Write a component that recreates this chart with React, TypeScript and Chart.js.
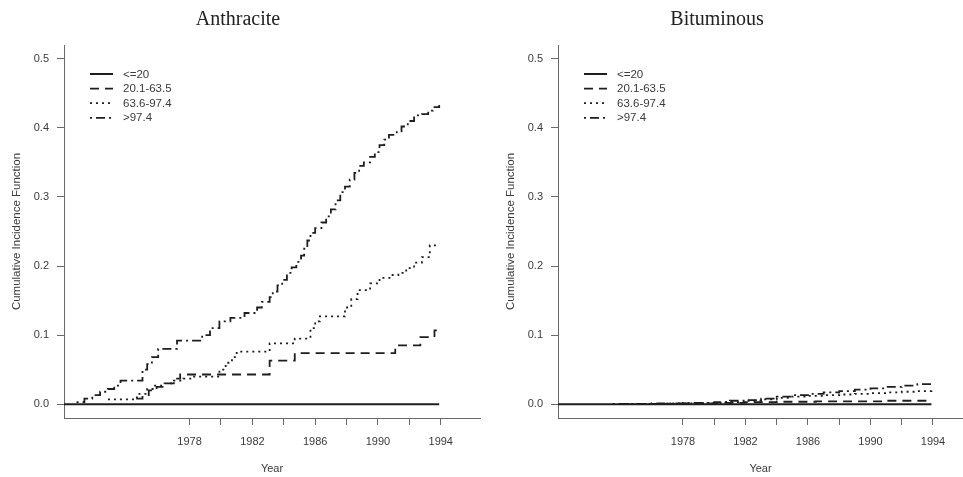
import React, { useEffect, useRef } from 'react';
import { Chart, registerables } from 'chart.js';

Chart.register(...registerables);

// ---------- data ----------
const panelTitles = ['Anthracite', 'Bituminous'];
const seriesLabels = ['<=20', '20.1-63.5', '63.6-97.4', '>97.4'];
const yTickValues = [0, 0.1, 0.2, 0.3, 0.4, 0.5];
const xTickValues = [1978, 1980, 1982, 1984, 1986, 1988, 1990, 1992, 1994];
const xTickLabels = ['1978', '', '1982', '', '1986', '', '1990', '', '1994'];

// Anthracite
const anthLe20Years = [1970, 1993.9];
const anthLe20Values = [0, 0];
const anth20to63Years = [1974.6, 1975.0, 1975.4, 1975.9, 1976.4, 1977.0, 1977.4, 1983.1, 1984.7, 1991.1, 1992.7, 1993.6, 1993.9];
const anth20to63Values = [0.008, 0.013, 0.02, 0.025, 0.03, 0.037, 0.043, 0.063, 0.074, 0.085, 0.097, 0.107, 0.107];
const anth63to97Years = [1972.8, 1974.4, 1974.8, 1975.3, 1975.8, 1976.4, 1977.0, 1977.6, 1978.2, 1979.9, 1980.3, 1980.7, 1981.0, 1983.1, 1984.7, 1985.7, 1986.0, 1986.3, 1987.9, 1988.3, 1988.7, 1989.5, 1990.1, 1990.8, 1991.3, 1991.8, 1992.3, 1992.8, 1993.3, 1993.9];
const anth63to97Values = [0.007, 0.01, 0.015, 0.022, 0.027, 0.03, 0.034, 0.037, 0.04, 0.05, 0.06, 0.068, 0.076, 0.088, 0.095, 0.11, 0.12, 0.127, 0.14, 0.152, 0.165, 0.175, 0.183, 0.187, 0.19, 0.197, 0.205, 0.213, 0.23, 0.23];
const anthGt97Years = [1970.8, 1971.3, 1971.8, 1972.3, 1972.8, 1973.2, 1973.6, 1975.0, 1975.3, 1975.6, 1976.0, 1977.2, 1978.8, 1979.3, 1979.9, 1980.6, 1981.5, 1982.3, 1982.6, 1983.1, 1983.3, 1983.6, 1983.9, 1984.2, 1984.5, 1984.8, 1985.1, 1985.3, 1985.5, 1985.7, 1986.0, 1986.4, 1986.7, 1987.0, 1987.3, 1987.6, 1987.9, 1988.2, 1988.5, 1988.8, 1989.1, 1989.5, 1989.8, 1990.1, 1990.4, 1990.7, 1991.2, 1991.5, 1991.9, 1992.3, 1992.8, 1993.2, 1993.5, 1993.9];
const anthGt97Values = [0.003, 0.008, 0.013, 0.018, 0.022, 0.027, 0.034, 0.05, 0.058, 0.068, 0.08, 0.092, 0.1, 0.11, 0.12, 0.125, 0.132, 0.14, 0.148, 0.155, 0.163, 0.172, 0.18, 0.19, 0.198, 0.206, 0.215, 0.225, 0.237, 0.248, 0.255, 0.263, 0.272, 0.282, 0.295, 0.307, 0.315, 0.325, 0.335, 0.345, 0.35, 0.358, 0.365, 0.375, 0.383, 0.39, 0.395, 0.402, 0.41, 0.418, 0.42, 0.425, 0.43, 0.433];

// Bituminous
const bitLe20Years = [1970, 1993.9];
const bitLe20Values = [0, 0];
const bit20to63Years = [1974.0, 1978.0, 1980.0, 1982.0, 1984.0, 1986.5, 1991.0, 1993.9];
const bit20to63Values = [0.0005, 0.001, 0.002, 0.003, 0.0035, 0.004, 0.005, 0.005];
const bit63to97Years = [1973.5, 1977.0, 1979.0, 1980.5, 1982.0, 1983.0, 1984.0, 1985.0, 1986.0, 1987.0, 1988.0, 1989.0, 1990.0, 1991.0, 1992.0, 1993.0, 1993.9];
const bit63to97Values = [0.0005, 0.001, 0.002, 0.003, 0.005, 0.007, 0.009, 0.011, 0.012, 0.013, 0.014, 0.015, 0.016, 0.017, 0.018, 0.019, 0.021];
const bitGt97Years = [1973.5, 1976.0, 1978.0, 1980.0, 1981.0, 1982.0, 1983.0, 1984.0, 1985.0, 1986.0, 1987.0, 1988.0, 1989.0, 1990.0, 1991.0, 1992.0, 1993.0, 1993.9];
const bitGt97Values = [0.0005, 0.001, 0.002, 0.003, 0.005, 0.006, 0.008, 0.011, 0.013, 0.015, 0.017, 0.019, 0.021, 0.023, 0.025, 0.027, 0.029, 0.031];

// ---------- styles ----------
const LINE_COLOR = '#1e1e1e';
const AXIS_COLOR = '#6a6a6a';
const TEXT_COLOR = '#3a3a3a';
const DASHES: number[][] = [[], [9, 6], [2, 4], [2, 4, 9, 4]];
const WIDTHS = [2, 1.8, 1.8, 1.8];
const SANS = '"Liberation Sans", Arial, Helvetica, sans-serif';
const SERIF = '"Liberation Serif", "Times New Roman", serif';

type PanelOpts = {
  title: string;
  years: number[][];
  values: number[][];
  yAxisWidth: number;
  yTitlePad: number;
  xMax: number;
  padRight: number;
  titleX: number;
};

const overlayPlugin = {
  id: 'overlay',
  afterDraw(chart: any, _args: any, opts: any) {
    const ctx = chart.ctx;
    const { left, top } = chart.chartArea;
    ctx.save();
    // title
    ctx.fillStyle = '#222';
    ctx.font = `20px ${SERIF}`;
    ctx.textAlign = 'center';
    ctx.textBaseline = 'middle';
    ctx.fillText(opts.title, opts.titleX, 20);
    // legend
    ctx.font = `11.5px ${SANS}`;
    ctx.textAlign = 'left';
    chart.data.datasets.forEach((ds: any, i: number) => {
      const y = top + 29 + i * 14.6;
      ctx.strokeStyle = LINE_COLOR;
      ctx.lineWidth = ds.borderWidth;
      ctx.setLineDash(ds.borderDash || []);
      ctx.beginPath();
      ctx.moveTo(left + 26, y);
      ctx.lineTo(left + 49, y);
      ctx.stroke();
      ctx.setLineDash([]);
      ctx.fillStyle = TEXT_COLOR;
      ctx.fillText(ds.label, left + 59, y + 0.5);
    });
    ctx.restore();
  },
};

function makeConfig(p: PanelOpts): any {
  const datasets = seriesLabels.map((label, i) => ({
    label,
    data: p.years[i].map((x, j) => ({ x, y: p.values[i][j] })),
    borderColor: LINE_COLOR,
    borderWidth: WIDTHS[i],
    borderDash: DASHES[i],
    pointRadius: 0,
    stepped: true,
    fill: false,
    tension: 0,
  }));
  return {
    type: 'line',
    data: { datasets },
    plugins: [overlayPlugin],
    options: {
      responsive: false,
      animation: false,
      devicePixelRatio: 1,
      layout: { padding: { top: 45, left: 0, right: p.padRight, bottom: 0 } },
      plugins: {
        legend: { display: false },
        title: { display: false },
        tooltip: { enabled: false },
        overlay: { title: p.title, titleX: p.titleX },
      },
      scales: {
        x: {
          type: 'linear',
          min: 1970,
          max: p.xMax,
          afterBuildTicks: (s: any) => {
            s.ticks = xTickValues.map((v) => ({ value: v }));
          },
          afterFit: (s: any) => {
            s.height = 59;
          },
          ticks: {
            autoSkip: false,
            maxRotation: 0,
            padding: 10,
            color: TEXT_COLOR,
            font: { family: SANS, size: 11 },
            callback: (v: number) => {
              const i = xTickValues.indexOf(v);
              return i >= 0 ? xTickLabels[i] : '';
            },
          },
          grid: {
            display: true,
            drawOnChartArea: false,
            drawTicks: true,
            tickLength: 7,
            color: AXIS_COLOR,
          },
          border: { display: true, color: AXIS_COLOR, width: 1 },
          title: {
            display: true,
            text: 'Year',
            color: TEXT_COLOR,
            font: { family: SANS, size: 11 },
            padding: { top: 0, bottom: 1 },
          },
        },
        y: {
          type: 'linear',
          min: -0.02,
          max: 0.52,
          afterBuildTicks: (s: any) => {
            s.ticks = yTickValues.map((v) => ({ value: v }));
          },
          afterFit: (s: any) => {
            s.width = p.yAxisWidth;
          },
          ticks: {
            padding: 8,
            color: TEXT_COLOR,
            font: { family: SANS, size: 11 },
            callback: (v: number) => v.toFixed(1),
          },
          grid: {
            display: true,
            drawOnChartArea: false,
            drawTicks: true,
            tickLength: 7,
            color: AXIS_COLOR,
          },
          border: { display: true, color: AXIS_COLOR, width: 1 },
          title: {
            display: true,
            text: 'Cumulative Incidence Function',
            color: TEXT_COLOR,
            font: { family: SANS, size: 11.5 },
            padding: { top: p.yTitlePad, bottom: 0 },
          },
        },
      },
    },
  };
}

export default function App() {
  const leftRef = useRef<HTMLCanvasElement | null>(null);
  const rightRef = useRef<HTMLCanvasElement | null>(null);

  useEffect(() => {
    const charts: Chart[] = [];
    if (leftRef.current) {
      charts.push(
        new Chart(
          leftRef.current,
          makeConfig({
            title: panelTitles[0],
            years: [anthLe20Years, anth20to63Years, anth63to97Years, anthGt97Years],
            values: [anthLe20Values, anth20to63Values, anth63to97Values, anthGt97Values],
            yAxisWidth: 64,
            yTitlePad: 10,
            xMax: 1996.5,
            padRight: 1,
            titleX: 238,
          })
        )
      );
    }
    if (rightRef.current) {
      charts.push(
        new Chart(
          rightRef.current,
          makeConfig({
            title: panelTitles[1],
            years: [bitLe20Years, bit20to63Years, bit63to97Years, bitGt97Years],
            values: [bitLe20Values, bit20to63Values, bit63to97Values, bitGt97Values],
            yAxisWidth: 77,
            yTitlePad: 23,
            xMax: 1995.92,
            padRight: 0,
            titleX: 236,
          })
        )
      );
    }
    return () => {
      charts.forEach((c) => c.destroy());
    };
  }, []);

  return (
    <div style={{ position: 'absolute', left: 0, top: 0, width: 963, height: 477, background: '#fff' }}>
      <canvas ref={leftRef} width={481} height={477} style={{ position: 'absolute', left: 0, top: 0, width: 481, height: 477 }} />
      <canvas ref={rightRef} width={482} height={477} style={{ position: 'absolute', left: 481, top: 0, width: 482, height: 477 }} />
    </div>
  );
}
